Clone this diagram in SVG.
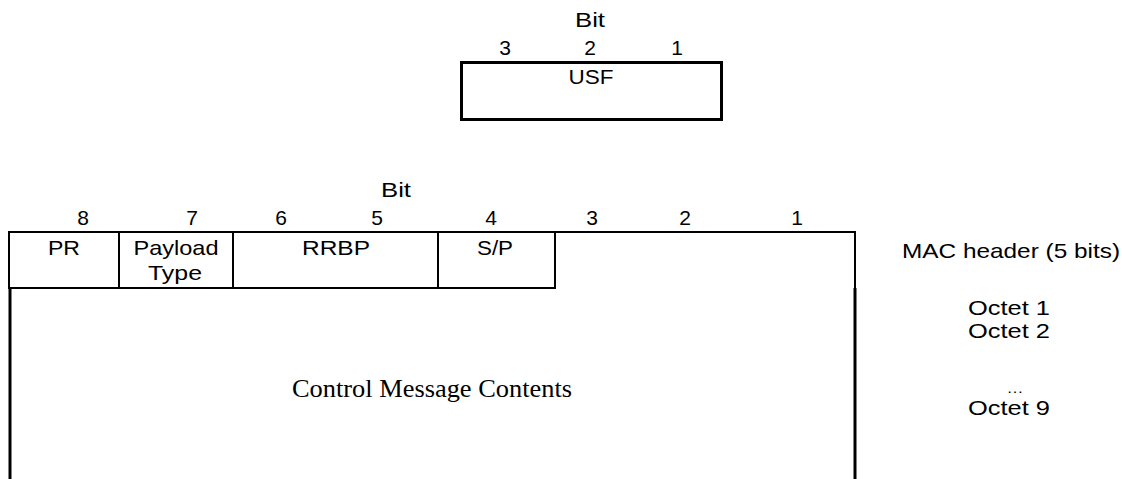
<svg xmlns="http://www.w3.org/2000/svg" width="1122" height="479" viewBox="0 0 1122 479">
<style>
.s{font-family:"Liberation Sans",Arial,sans-serif;font-size:21px;fill:#000;text-anchor:middle}
.r{font-family:"Liberation Serif","Times New Roman",serif;font-size:26px;fill:#000;text-anchor:middle}
.thin{stroke:#000;stroke-width:2;fill:none}
.thick{stroke:#000;stroke-width:3;fill:none}
</style>
<rect width="1122" height="479" fill="#fff"/>
<g id="usf-field">
<text class="s" x="590" y="27" textLength="30" lengthAdjust="spacingAndGlyphs">Bit</text>
<text class="s" x="505" y="55">3</text>
<text class="s" x="590" y="55">2</text>
<text class="s" x="677" y="55">1</text>
<rect class="thick" x="461.5" y="62.5" width="260" height="57"/>
<text class="s" x="591" y="84" textLength="45" lengthAdjust="spacingAndGlyphs">USF</text>
</g>
<g id="bit-numbers">
<text class="s" x="396" y="197" textLength="30" lengthAdjust="spacingAndGlyphs">Bit</text>
<text class="s" x="83" y="225">8</text>
<text class="s" x="192" y="225">7</text>
<text class="s" x="281" y="225">6</text>
<text class="s" x="377" y="225">5</text>
<text class="s" x="491" y="225">4</text>
<text class="s" x="592" y="225">3</text>
<text class="s" x="685" y="225">2</text>
<text class="s" x="797" y="225">1</text>
</g>
<g id="header-row">
<polyline class="thin" points="855,289 855,232 9,232 9,289"/>
<line class="thin" x1="8" y1="288" x2="556" y2="288"/>
<line class="thin" x1="119" y1="232" x2="119" y2="288"/>
<line class="thin" x1="233" y1="232" x2="233" y2="288"/>
<line class="thin" x1="438" y1="232" x2="438" y2="288"/>
<line class="thin" x1="555" y1="232" x2="555" y2="288"/>
</g>
<g id="pr"><text class="s" x="64" y="255" textLength="32" lengthAdjust="spacingAndGlyphs">PR</text></g>
<g id="payload-type">
<text class="s" x="176" y="255" textLength="85" lengthAdjust="spacingAndGlyphs">Payload</text>
<text class="s" x="175" y="280" textLength="54" lengthAdjust="spacingAndGlyphs">Type</text>
</g>
<g id="rrbp"><text class="s" x="336" y="255" textLength="68" lengthAdjust="spacingAndGlyphs">RRBP</text></g>
<g id="sp"><text class="s" x="495" y="255" textLength="36" lengthAdjust="spacingAndGlyphs">S/P</text></g>
<g id="control-message">
<line class="thick" x1="10" y1="288" x2="10" y2="479"/>
<line class="thick" x1="855" y1="288" x2="855" y2="479"/>
<text class="r" x="432" y="397" textLength="280" lengthAdjust="spacingAndGlyphs">Control Message Contents</text>
</g>
<g id="labels">
<text class="s" x="1011" y="258" textLength="218" lengthAdjust="spacingAndGlyphs">MAC header (5 bits)</text>
<text class="s" x="1009" y="315" textLength="82" lengthAdjust="spacingAndGlyphs">Octet 1</text>
<text class="s" x="1009" y="338" textLength="82" lengthAdjust="spacingAndGlyphs">Octet 2</text>
<text class="s" x="1015" y="393" style="font-size:14px" textLength="17" lengthAdjust="spacingAndGlyphs">…</text>
<text class="s" x="1009" y="415" textLength="82" lengthAdjust="spacingAndGlyphs">Octet 9</text>
</g>
</svg>
